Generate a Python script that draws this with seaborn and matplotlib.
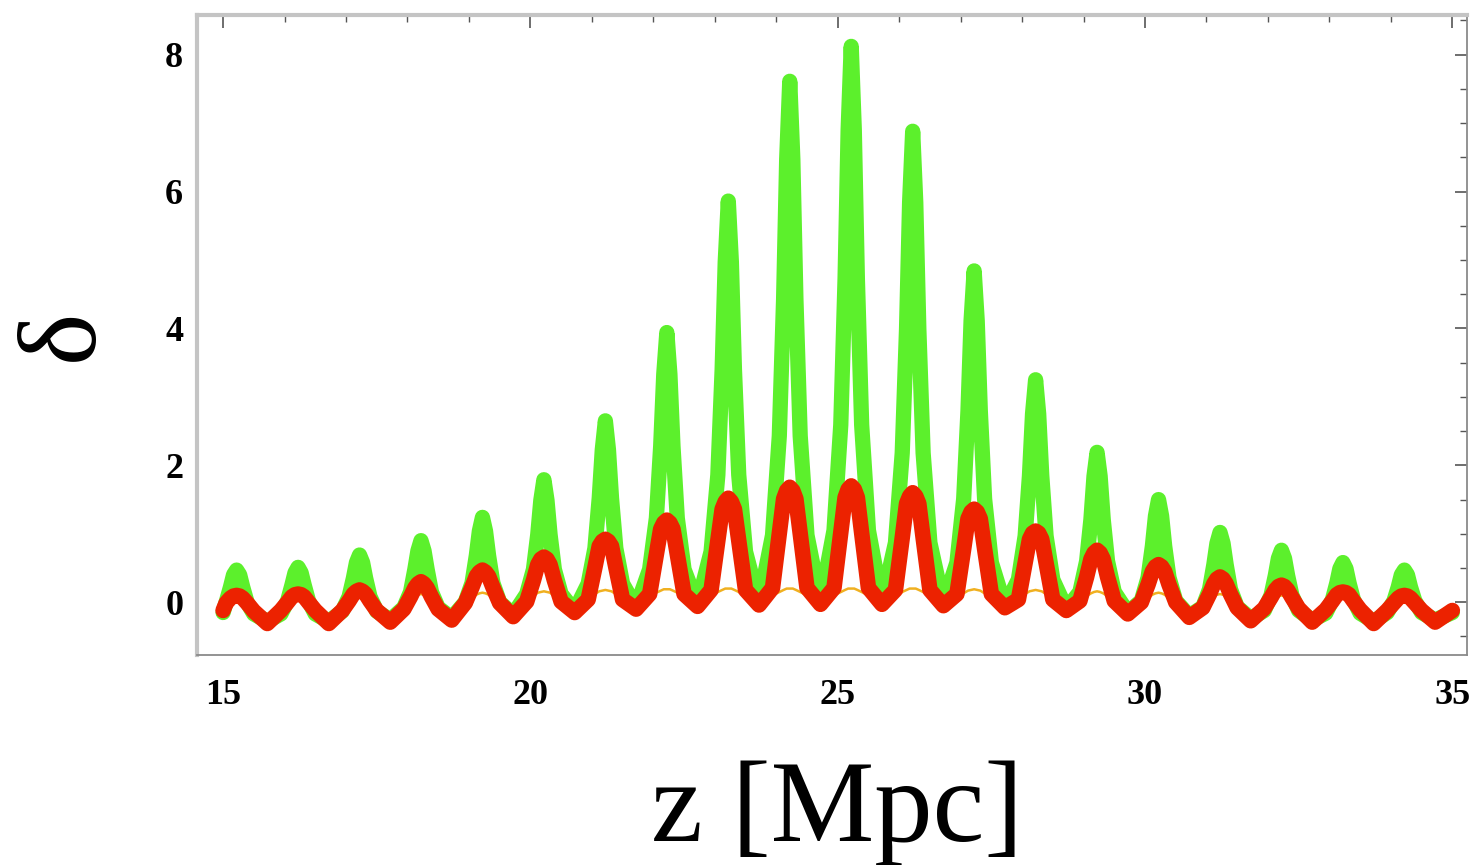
import numpy as np
import pandas as pd
import matplotlib
matplotlib.use("Agg")
import matplotlib.pyplot as plt
from matplotlib.ticker import MultipleLocator
import seaborn as sns

# ---------------- data ----------------
peak_z = [15.22, 16.22, 17.22, 18.22, 19.22, 20.22, 21.22, 22.22, 23.22, 24.22,
          25.22, 26.22, 27.22, 28.22, 29.22, 30.22, 31.22, 32.22, 33.22, 34.22]
trough_z = [15.72, 16.72, 17.72, 18.72, 19.72, 20.72, 21.72, 22.72, 23.72, 24.72,
            25.72, 26.72, 27.72, 28.72, 29.72, 30.72, 31.72, 32.72, 33.72, 34.72]
# sample positions around each peak (z - z_peak)
near_dz = [0.05, 0.10, 0.17, 0.28]
z_start, z_end = 15.0, 35.0

# green curve
green_peak = [0.47, 0.51, 0.69, 0.90, 1.24, 1.79, 2.65, 3.94, 5.86, 7.61,
              8.12, 6.88, 4.84, 3.25, 2.19, 1.50, 1.02, 0.76, 0.58, 0.47]
green_s05 = [0.40, 0.43, 0.58, 0.75, 1.04, 1.49, 2.23, 3.33, 4.97, 6.47,
             6.90, 5.84, 4.11, 2.75, 1.84, 1.26, 0.86, 0.64, 0.49, 0.40]
green_s10 = [0.22, 0.25, 0.35, 0.48, 0.68, 0.99, 1.52, 2.28, 3.40, 4.43,
             4.73, 3.99, 2.80, 1.85, 1.21, 0.82, 0.55, 0.39, 0.28, 0.22]
green_s17 = [0.00, 0.02, 0.08, 0.15, 0.28, 0.48, 0.79, 1.23, 1.86, 2.43,
             2.59, 2.18, 1.51, 0.97, 0.60, 0.36, 0.19, 0.10, 0.04, 0.02]
green_s28 = [-0.17, -0.17, -0.13, -0.08, 0.00, 0.12, 0.27, 0.48, 0.74, 0.98,
             1.05, 0.87, 0.58, 0.33, 0.15, 0.02, -0.07, -0.12, -0.16, -0.15]
green_trough = [-0.28, -0.28, -0.26, -0.23, -0.18, -0.13, -0.08, -0.04, -0.02, -0.01,
                -0.01, -0.03, -0.06, -0.10, -0.15, -0.20, -0.24, -0.26, -0.28, -0.26]
green_ends = [-0.15, -0.15]

# red curve
red_peak = [0.10, 0.12, 0.18, 0.30, 0.47, 0.66, 0.92, 1.20, 1.52, 1.68,
            1.70, 1.60, 1.36, 1.04, 0.76, 0.55, 0.37, 0.25, 0.15, 0.10]
red_s05 = [0.09, 0.11, 0.16, 0.27, 0.44, 0.63, 0.89, 1.16, 1.47, 1.63,
           1.65, 1.55, 1.32, 1.01, 0.72, 0.52, 0.34, 0.23, 0.14, 0.09]
red_s10 = [0.06, 0.08, 0.12, 0.21, 0.38, 0.55, 0.82, 1.07, 1.36, 1.51,
           1.53, 1.44, 1.22, 0.92, 0.63, 0.45, 0.27, 0.18, 0.11, 0.06]
red_s17 = [-0.01, 0.00, 0.02, 0.08, 0.22, 0.32, 0.51, 0.70, 0.90, 1.00,
           1.01, 0.94, 0.78, 0.58, 0.37, 0.26, 0.12, 0.07, 0.02, -0.01]
red_s28 = [-0.13, -0.12, -0.12, -0.10, -0.01, 0.01, 0.04, 0.12, 0.18, 0.21,
           0.21, 0.18, 0.12, 0.04, 0.02, 0.00, -0.08, -0.09, -0.11, -0.12]
red_trough = [-0.31, -0.31, -0.29, -0.26, -0.21, -0.15, -0.10, -0.06, -0.04, -0.03,
              -0.03, -0.05, -0.08, -0.12, -0.17, -0.22, -0.27, -0.29, -0.31, -0.29]
red_ends = [-0.12, -0.12]

# thin orange curve (mostly hidden under the red one)
orange_peak = [0.08, 0.09, 0.10, 0.12, 0.14, 0.16, 0.18, 0.19, 0.20, 0.20,
               0.20, 0.20, 0.19, 0.18, 0.16, 0.14, 0.12, 0.10, 0.09, 0.08]
orange_s05 = [0.07, 0.08, 0.09, 0.11, 0.13, 0.15, 0.17, 0.19, 0.20, 0.20,
              0.20, 0.20, 0.18, 0.17, 0.15, 0.13, 0.11, 0.09, 0.08, 0.07]
orange_s10 = [0.05, 0.06, 0.07, 0.09, 0.11, 0.14, 0.16, 0.17, 0.18, 0.18,
              0.18, 0.18, 0.17, 0.16, 0.13, 0.11, 0.09, 0.07, 0.06, 0.05]
orange_s17 = [-0.01, 0.00, 0.01, 0.04, 0.06, 0.09, 0.12, 0.14, 0.15, 0.15,
              0.15, 0.15, 0.13, 0.12, 0.09, 0.06, 0.03, 0.01, 0.00, 0.00]
orange_s28 = [-0.10, -0.10, -0.08, -0.06, -0.02, 0.01, 0.05, 0.08, 0.09, 0.10,
              0.10, 0.09, 0.07, 0.04, 0.00, -0.03, -0.06, -0.08, -0.10, -0.09]
orange_trough = [-0.25, -0.25, -0.23, -0.20, -0.15, -0.10, -0.05, -0.01, 0.01, 0.02,
                 0.02, 0.00, -0.03, -0.07, -0.12, -0.17, -0.21, -0.23, -0.25, -0.23]
orange_ends = [-0.06, -0.06]

x_ticks = [15, 20, 25, 30, 35]
y_ticks = [0, 2, 4, 6, 8]


def assemble(peak, s05, s10, s17, s28, trough, ends):
    zs, vs = [z_start], [ends[0]]
    for k in range(len(peak_z)):
        p = peak_z[k]
        side = [s05[k], s10[k], s17[k], s28[k]]
        left = list(zip([p - d for d in near_dz], side))[::-1]
        right = list(zip([p + d for d in near_dz], side))
        pts = left + [(p, peak[k])] + right + [(trough_z[k], trough[k])]
        for z, v in pts:
            if z_start < z < z_end:
                zs.append(z)
                vs.append(v)
    zs.append(z_end)
    vs.append(ends[1])
    return zs, vs


frames = []
for name, arrs in [("green", (green_peak, green_s05, green_s10, green_s17, green_s28, green_trough, green_ends)),
                   ("red", (red_peak, red_s05, red_s10, red_s17, red_s28, red_trough, red_ends)),
                   ("orange", (orange_peak, orange_s05, orange_s10, orange_s17, orange_s28, orange_trough, orange_ends))]:
    zs, vs = assemble(*arrs)
    frames.append(pd.DataFrame({"z": zs, "delta": vs, "curve": name}))
df = pd.concat(frames, ignore_index=True)

# ---------------- plot ----------------
sns.set_theme(style="white")
plt.rcParams["font.family"] = ["Liberation Serif", "DejaVu Serif"]
plt.rcParams["text.color"] = "black"
plt.rcParams["xtick.labelcolor"] = "black"
plt.rcParams["ytick.labelcolor"] = "black"

fig = plt.figure(figsize=(14.74, 8.65), dpi=100)
ax = fig.add_axes([0.1337, 0.2428, 0.8616, 0.740])

styles = {"green": ("#5cf02c", 11.0, 1), "orange": ("#f0b020", 1.8, 2), "red": ("#ec2200", 11.2, 3)}
for name in ["green", "orange", "red"]:
    col, lw, zo = styles[name]
    sns.lineplot(data=df[df["curve"] == name], x="z", y="delta", ax=ax, color=col,
                 linewidth=lw, estimator=None, sort=False, legend=False,
                 solid_joinstyle="round", solid_capstyle="round", zorder=zo)

ax.set_xlim(14.577, 35.24)
ax.set_ylim(-0.77, 8.58)
ax.set_xticks(x_ticks)
ax.set_yticks(y_ticks)
ax.xaxis.set_minor_locator(MultipleLocator(1))
ax.yaxis.set_minor_locator(MultipleLocator(0.5))
ax.tick_params(which="both", direction="in", top=True, right=True, color="#555555",
               labelsize=26, labelcolor="black")
ax.tick_params(which="major", length=9, width=1.2)
ax.tick_params(which="minor", length=5, width=1.0)
for lab in ax.get_xticklabels() + ax.get_yticklabels():
    lab.set_fontweight("bold")
ax.tick_params(axis="x", pad=17)
ax.tick_params(axis="y", pad=10)

for side in ["top", "left"]:
    ax.spines[side].set_color("#c4c4c4")
    ax.spines[side].set_linewidth(3)
for side in ["bottom", "right"]:
    ax.spines[side].set_color("#8a8a8a")
    ax.spines[side].set_linewidth(1.3)

ax.set_xlabel("")
ax.set_ylabel("")
fig.text(0.568, 0.06, "z [Mpc]", ha="center", va="center", fontsize=84, color="black")
fig.text(0.044, 0.613, "δ", ha="center", va="center", fontsize=80, rotation=90, color="black")

fig.savefig("out.png", dpi=100)
